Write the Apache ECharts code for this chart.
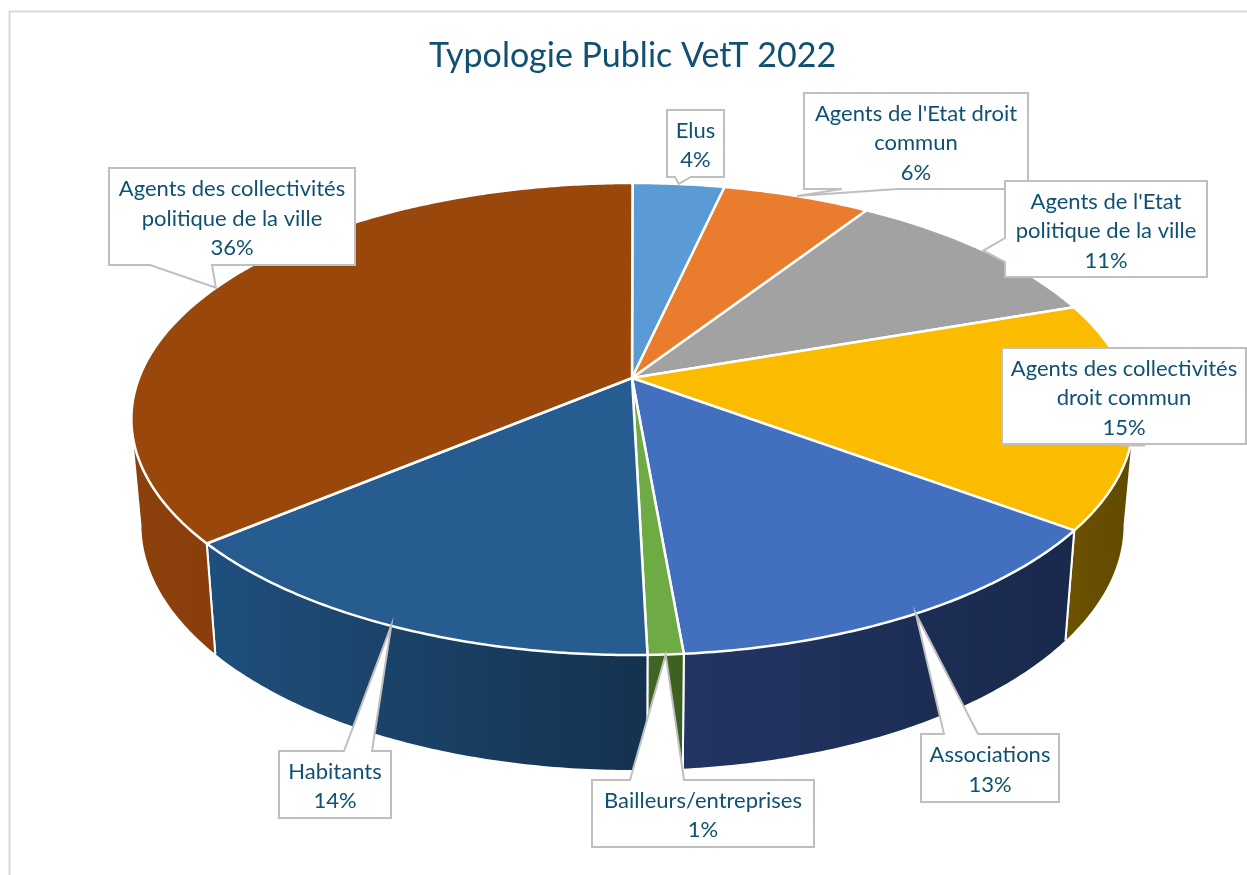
<!DOCTYPE html>
<html><head><meta charset="utf-8">
<style>html,body{margin:0;padding:0;background:#fff;overflow:hidden}#c{width:1247px;height:875px}</style>
<script src="https://cdn.jsdelivr.net/npm/echarts@6/dist/echarts.min.js"></script>
</head><body><div id="c"></div>
<script>
const titleText = "Typologie Public VetT 2022";
const categories = ["Elus","Agents de l'Etat droit\ncommun","Agents de l'Etat\npolitique de la ville","Agents des collectivités\ndroit commun","Associations","Bailleurs/entreprises","Habitants","Agents des collectivités\npolitique de la ville"];
const shares = [3.5,5.65,10.55,15.48,13.45,0.97,14.3,36.1];
const topColors = ["#5A9AD5","#EA7C2E","#A2A2A2","#FBBC00","#4270BF","#6EAB45","#265C8F","#9A470C"];
const wallLeft  = ["#3d6a94","#9a5220","#6e6e6e","#6b5100","#223563","#3f6622","#1f4f7c","#8c400b"];
const wallRight = ["#3d6a94","#9a5220","#6e6e6e","#604900","#19294c","#3b5f20","#14324f","#8a3e0b"];
// layout of the label callouts: box [x0,y0,x1,y1], side the pointer leaves from, pointer base on that side
const callouts = [
  {box:[667,110,724,177],side:'b',base:[691,675]},
  {box:[804,93,1028,189],side:'b',base:[897,842]},
  {box:[1005,181,1207,277],side:'l',base:[262,238]},
  {box:[1002,348,1246,444],stub:[1122,1145]},
  {box:[921,734,1059,802],side:'t',base:[944,978]},
  {box:[592,780,814,847],side:'t',base:[630,684]},
  {box:[279,751,391,818],side:'t',base:[344,372]},
  {box:[109,168,355,265],side:'b',base:[212,150]}
];
const textColor = "#0F5172", calloutLine = "#BFBFBF", rimColor = "#FFFFFF";
// perspective model of the disc
const P = {ax:632, cx:632.5, cy:378, A:493.5, B:228.9, k:0.1737, sx:0.98, cyLow:482, BLow:238, cxLow:632.5};
const total = shares.reduce((a,b)=>a+b,0);
const cum = []; shares.reduce((a,b,i)=>(cum[i]=a,a+b),0);
const ang = p => p/total*2*Math.PI;
function uvw(t){const u=Math.sin(t),v=-Math.cos(t);return {u,v,w:1-P.k*v};}
function topPt(t){const {u,v,w}=uvw(t);return [P.cx+P.A*u/w,P.cy+P.B*v/w];}
function lowPt(t){const {u,v,w}=uvw(t);return [P.cxLow+P.sx*P.A*u/w,P.cyLow+P.BLow*v/w];}
function arc(f,a,b){const n=Math.max(2,Math.ceil(Math.abs(b-a)/0.01));const r=[];for(let i=0;i<=n;i++)r.push(f(a+(b-a)*i/n));return r;}
const visA=Math.acos(-P.k), visB=2*Math.PI-visA;

function wallItem(params,api){
  const i=params.dataIndex,v=api.value(0);
  const a=Math.max(ang(cum[i]),visA), b=Math.min(ang(cum[i]+v),visB);
  if(b<=a) return {type:'group',children:[]};
  const t=arc(topPt,a,b), l=arc(lowPt,b,a);
  const x0=Math.min(t[0][0],t[t.length-1][0]), x1=Math.max(t[0][0],t[t.length-1][0]);
  const ch=[{type:'polygon',shape:{points:t.concat(l)},style:{fill:{type:'linear',x:x0,y:0,x2:x1,y2:0,global:true,colorStops:[{offset:0,color:wallLeft[i]},{offset:1,color:wallRight[i]}]}}}];
  [[ang(cum[i]),a],[ang(cum[i]+v),b]].forEach(([e,c])=>{
    if(Math.abs(e-c)<1e-9 && e>visA && e<visB){
      const p=topPt(e),q=lowPt(e);
      ch.push({type:'line',shape:{x1:p[0],y1:p[1],x2:q[0],y2:q[1]},style:{stroke:rimColor,lineWidth:2}});
    }
  });
  return {type:'group',children:ch};
}
function topItem(params,api){
  const i=params.dataIndex,v=api.value(0);
  const pts=[[P.ax,P.cy]].concat(arc(topPt,ang(cum[i]),ang(cum[i]+v)));
  return {type:'polygon',shape:{points:pts},style:{fill:topColors[i],stroke:rimColor,lineWidth:2.5,lineJoin:'round'}};
}
function calloutItem(params,api){
  const i=params.dataIndex,v=api.value(0),c=callouts[i];
  const [x0,y0,x1,y1]=c.box, tip=topPt(ang(cum[i]+v/2));
  let pts;
  if(c.side==='b') pts=[[x0,y0],[x1,y0],[x1,y1],[c.base[0],y1],tip,[c.base[1],y1],[x0,y1]];
  else if(c.side==='t') pts=[[x0,y0],[c.base[0],y0],tip,[c.base[1],y0],[x1,y0],[x1,y1],[x0,y1]];
  else if(c.side==='l') pts=[[x0,y0],[x1,y0],[x1,y1],[x0,y1],[x0,c.base[0]],tip,[x0,c.base[1]]];
  else pts=[[x0,y0],[x1,y0],[x1,y1],[x0,y1]];
  const ch=[{type:'polygon',shape:{points:pts},style:{fill:'#fff',stroke:calloutLine,lineWidth:2,lineJoin:'miter'}}];
  if(c.stub) ch.push({type:'line',shape:{x1:c.stub[0],y1:y1+1,x2:c.stub[1],y2:y1+1},style:{stroke:calloutLine,lineWidth:3}});
  const txt=categories[i]+"\n"+Math.round(v/total*100)+"%";
  ch.push({type:'text',style:{text:txt,x:(x0+x1)/2,y:(y0+y1)/2+2,textAlign:'center',textVerticalAlign:'middle',fill:textColor,font:'22px Lato',lineHeight:29.5}});
  return {type:'group',children:ch};
}
const chart=echarts.init(document.getElementById('c'),null,{renderer:'canvas'});
const rows=shares.map(s=>[s]);
chart.setOption({
  animation:false,
  title:{text:titleText,left:627.5,top:34,textAlign:'center',textStyle:{color:textColor,fontFamily:'Lato',fontSize:34,fontWeight:'normal'}},
  graphic:[{type:'rect',z:0,shape:{x:9.5,y:11.5,width:1300,height:900},style:{fill:'none',stroke:'#D9D9D9',lineWidth:2}}],
  series:[
    {type:'custom',coordinateSystem:'none',z:2,data:rows,renderItem:wallItem,silent:true},
    {type:'custom',coordinateSystem:'none',z:3,data:rows,renderItem:topItem,silent:true},
    {type:'custom',coordinateSystem:'none',z:4,data:rows,renderItem:calloutItem,silent:true}
  ]
});
</script></body></html>
